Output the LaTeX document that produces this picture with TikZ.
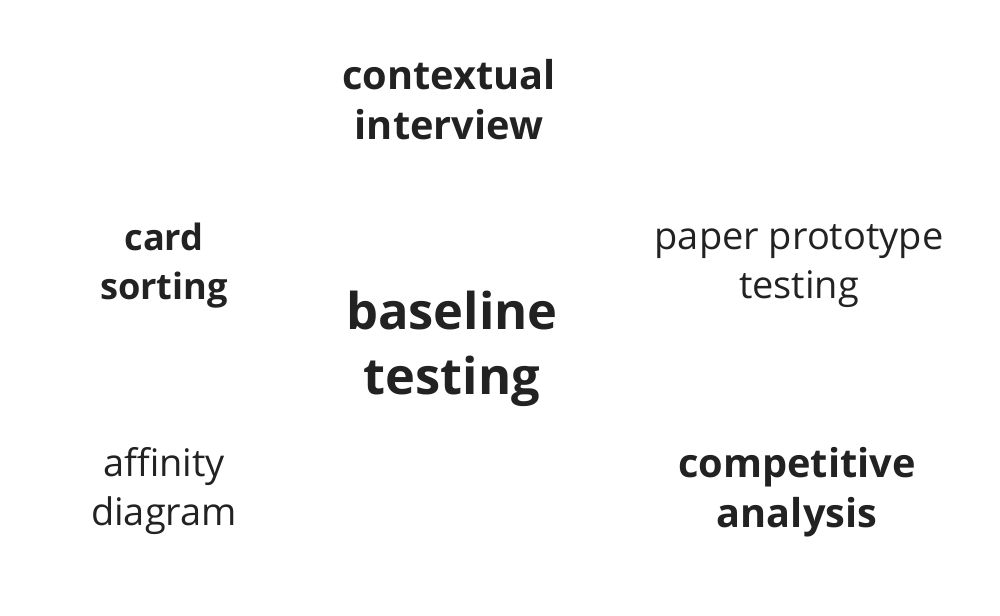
\documentclass[tikz,border=0pt]{standalone}
\usepackage{fontspec}
\setmainfont{Open Sans}
\usepackage{xcolor}
\usepackage{tikz}
\definecolor{inkgray}{HTML}{222222}

\begin{document}
\begin{tikzpicture}[
        term/.style={align=center, text=inkgray, font=\fontsize{10.8pt}{13.9pt}\selectfont},
        strong/.style={term, font=\fontsize{11.3pt}{14.2pt}\selectfont\bfseries},
        small strong/.style={term, font=\fontsize{10.3pt}{13.9pt}\selectfont\bfseries},
        big/.style={term, font=\fontsize{14.4pt}{18.5pt}\selectfont\bfseries}
    ]
        \useasboundingbox (0, 0) rectangle (10, -6.15);
        \node[strong] at (4.49, -1.00) (ctx) {contextual\\interview};
        \node[small strong] at (1.64, -2.66) (card) {card\\sorting};
        \node[big] at (4.52, -3.49) (base) {baseline\\testing};
        \node[term] at (7.99, -2.66) (paper) {paper prototype\\testing};
        \node[term] at (1.64, -4.91) (aff) {affinity\\diagram};
        \node[strong] at (7.97, -4.92) (comp) {competitive\\analysis};
    \end{tikzpicture}
\end{document}
